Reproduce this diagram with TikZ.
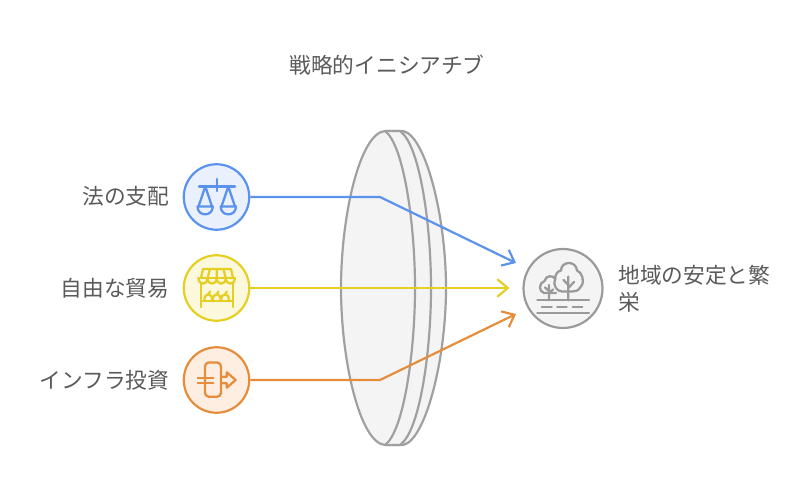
\documentclass[tikz,border=0pt]{standalone}
\usepackage{fontspec}
\setmainfont{Noto Sans CJK JP}
\usetikzlibrary{arrows.meta, positioning}
\definecolor{lawblue}{HTML}{5A92EE}
\definecolor{lawfill}{HTML}{EAF1FD}
\definecolor{tradeyellow}{HTML}{E5CF22}
\definecolor{tradefill}{HTML}{FCF8DC}
\definecolor{infraorange}{HTML}{E68D3C}
\definecolor{infrafill}{HTML}{FDEEE1}
\definecolor{lensgrey}{HTML}{A0A0A0}
\definecolor{lensfill}{HTML}{F4F4F4}
\definecolor{goalgrey}{HTML}{9A9A9A}
\definecolor{inkgrey}{HTML}{5A5A5A}
\tikzset{
	disc/.style={circle,draw,line width=1.25pt,minimum size=1.31cm,inner sep=0pt},
	label text/.style={text=inkgrey,font=\fontsize{12.35}{15.3}\selectfont,inner sep=0pt},
	link/.style={line width=1.25pt,line join=round,-{Straight Barb[length=6pt,width=10pt,line width=1.25pt]}},
	icon/.style={line width=1.3pt,line cap=round,line join=round},
	lens/.style={draw=lensgrey,fill=lensfill,line width=1.25pt,line join=round}
}
\begin{document}
\begin{tikzpicture}[x=0.02cm,y=-0.02cm]
	\useasboundingbox (0,0) rectangle (800,499);

	\node(title) [label text] at (387,65) {戦略的イニシアチブ};

	%--------------------------------------------------------------------
	\draw[lens] (385,131) -- (403,131) .. controls (425,135) and (446,215) .. (446,288) .. controls (446,361) and (425,441) .. (403,445) -- (385,445) -- cycle;
	\draw[lens] (385,131) -- (400,131) .. controls (420,145) and (431,225) .. (431,288) .. controls (431,351) and (420,431) .. (400,445) -- (385,445) -- cycle;
	\draw[lens] (385,131) .. controls (360,133) and (341,215) .. (341,288) .. controls (341,361) and (360,443) .. (385,445) .. controls (404,431) and (415,351) .. (415,288) .. controls (415,225) and (404,145) .. (385,131) -- cycle;

	%--------------------------------------------------------------------
	\node(law) [disc,draw=lawblue,fill=lawfill] at (216.5,197) {};
	\node(trade) [disc,draw=tradeyellow,fill=tradefill] at (216.5,288) {};
	\node(infra) [disc,draw=infraorange,fill=infrafill] at (216.5,380) {};
	\node(goal) [disc,draw=goalgrey,fill=lensfill,minimum size=1.58cm] at (563,288.5) {};

	\node(lawtext) [label text,anchor=east] at (169.5,196) {法の支配};
	\node(tradetext) [label text,anchor=east] at (169.5,288) {自由な貿易};
	\node(infratext) [label text,anchor=east] at (169.5,380) {インフラ投資};
	\node(goaltext) [label text,anchor=west,align=left] at (618,289) {地域の安定と繁\\栄};

	%--------------------------------------------------------------------
	\coordinate(lawbend) at (380,197);
	\coordinate(lawend) at (516,263);
	\coordinate(tradeend) at (509.5,288);
	\coordinate(infrabend) at (380,380);
	\coordinate(infraend) at (516,314);
	\draw[link,lawblue] (law.east) -- (lawbend) -- (lawend);
	\draw[link,tradeyellow] (trade.east) -- (tradeend);
	\draw[link,infraorange] (infra.east) -- (infrabend) -- (infraend);

	%--------------------------------------------------------------------
	% scales
	\begin{scope}[icon,lawblue]
		\draw (199,186.5) -- (235,186.5);
		\draw (216.7,179) -- (216.7,191);
		\draw (198.5,206.5) -- (205.3,186.5) -- (212,206.5);
		\draw (221.5,206.5) -- (228.3,186.5) -- (235,206.5);
		\foreach \px in {197.5,220.7} {
			\draw (\px,206.5) -- (\px+15.3,206.5) .. controls (\px+15.3,217) and (\px,217) .. (\px,206.5) -- cycle;
		}
	\end{scope}

	% stall
	\begin{scope}[icon,tradeyellow]
		\draw (201,278) -- (203,269) -- (231,269) -- (233,278);
		\draw (198.5,278) -- (235,278);
		\draw (207.6,278) -- (210,269) (216.7,278) -- (216.7,269) (225.8,278) -- (223.4,269);
		\foreach \sx in {198.5,207.6,216.7,225.8} {
			\draw (\sx,278) .. controls (\sx,285.5) and (\sx+9.1,285.5) .. (\sx+9.1,278);
		}
		\draw (201,283) -- (201,307) (232.7,283) -- (232.7,307);
		\draw (201,301) -- (232.7,301);
		\foreach \fx in {204.5,212.9,221.3} {
			\draw (\fx,301) .. controls (\fx-1,292) and (\fx+8.6,292) .. (\fx+7.6,301);
			\draw (\fx+3.8,294.5) -- (\fx+5.5,291.5);
		}
	\end{scope}

	% gateway
	\begin{scope}[icon,infraorange]
		\draw[rounded corners=2.2pt] (205,362.5) rectangle (221,396.7);
		\draw (197.7,377.7) -- (213.3,377.7) (197.7,382.7) -- (213.3,382.7);
		\draw (221,376.7) -- (226.7,376.7) -- (226.7,372.3) -- (235.7,380) -- (226.7,387.7) -- (226.7,383.3) -- (221,383.3);
	\end{scope}

	% trees
	\begin{scope}[icon,goalgrey]
		\draw (537.3,300.3) -- (589,300.3) (537.3,313) -- (589,313);
		\draw (541.7,306.7) -- (551.7,306.7) (557.3,306.7) -- (566.7,306.7) (572.7,306.7) -- (582.3,306.7);
		\draw (549,300.3) -- (549,285) (549,291) -- (545,287.5) (549,293) -- (553,289.5);
		\draw (568.3,300.3) -- (568.3,276.5) (568.3,285) -- (563.5,280) (568.3,288) -- (574,282);
		\draw (555.5,279) .. controls (553,275) and (546,275) .. (544.5,281) .. controls (538.5,283) and (538.5,291.5) .. (544,293) -- (556,293);
		\draw (562,291.5) .. controls (557,291.5) and (552.5,285) .. (555,279.5) .. controls (555,274) and (558,271) .. (561,270.5)
			.. controls (561,261) and (576,260) .. (577,270.5) .. controls (582,272) and (585.5,282) .. (580.5,287) .. controls (578.5,291) and (575,291.5) .. (572,291.5) -- (562,291.5);
	\end{scope}
\end{tikzpicture}
\end{document}
